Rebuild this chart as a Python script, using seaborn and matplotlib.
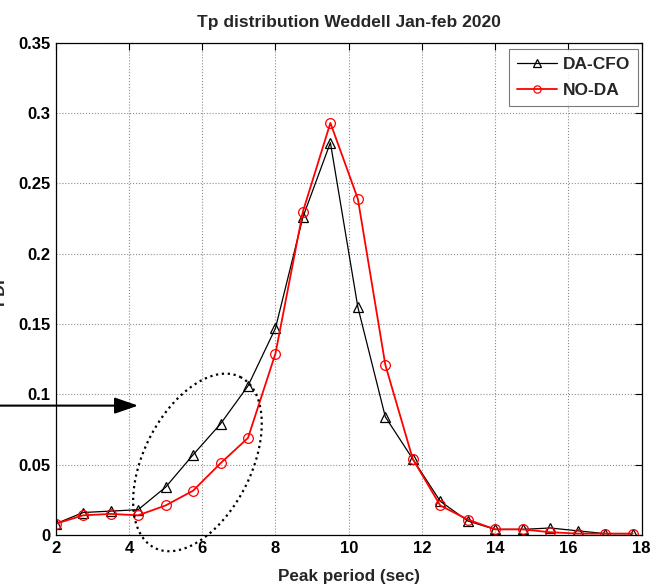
import numpy as np
import pandas as pd
import matplotlib
matplotlib.use("Agg")
import matplotlib.pyplot as plt
import seaborn as sns

# ---- data ----
tp = [2.0, 2.75, 3.5, 4.25, 5.0, 5.75, 6.5, 7.25, 8.0, 8.75, 9.5, 10.25,
      11.0, 11.75, 12.5, 13.25, 14.0, 14.75, 15.5, 16.25, 17.0, 17.75]
da_cfo = [0.008, 0.016, 0.017, 0.018, 0.034, 0.057, 0.079, 0.106, 0.147, 0.226, 0.279, 0.162,
          0.084, 0.054, 0.024, 0.010, 0.004, 0.004, 0.005, 0.003, 0.001, 0.001]
no_da = [0.008, 0.014, 0.015, 0.014, 0.021, 0.0315, 0.051, 0.069, 0.129, 0.230, 0.293, 0.239,
         0.121, 0.054, 0.021, 0.011, 0.004, 0.004, 0.002, 0.001, 0.001, 0.001]
series_names = ["DA-CFO", "NO-DA"]
xticks = [2, 4, 6, 8, 10, 12, 14, 16, 18]
yticks = [0, 0.05, 0.1, 0.15, 0.2, 0.25, 0.3, 0.35]
ytick_labels = ["0", "0.05", "0.1", "0.15", "0.2", "0.25", "0.3", "0.35"]
title = "Tp distribution Weddell Jan-feb 2020"
xlabel = "Peak period (sec)"
ylabel = "PDF"

sns.set_style("white")
plt.rcParams['font.family'] = ['Liberation Sans', 'DejaVu Sans']
plt.rcParams['font.weight'] = 'bold'

fig = plt.figure(figsize=(6.53, 5.86), dpi=100)
ax = fig.add_axes([0.0853, 0.0870, 0.8974, 0.8401])

df1 = pd.DataFrame({"tp": tp, "pdf": da_cfo})
df2 = pd.DataFrame({"tp": tp, "pdf": no_da})
sns.lineplot(data=df1, x="tp", y="pdf", ax=ax, color="black", lw=0.9,
             marker="^", markersize=7, markerfacecolor="none",
             markeredgecolor="black", markeredgewidth=0.9, label=series_names[0])
sns.lineplot(data=df2, x="tp", y="pdf", ax=ax, color="red", lw=1.3,
             marker="o", markersize=7, markerfacecolor="none",
             markeredgecolor="red", markeredgewidth=0.9, label=series_names[1])

ax.set_xlim(2, 18)
ax.set_ylim(0, 0.35)
ax.set_xticks(xticks)
ax.set_xticklabels([str(t) for t in xticks])
ax.set_yticks(yticks)
ax.set_yticklabels(ytick_labels)
ax.tick_params(direction="in", length=5, width=0.8, top=True, right=True,
               labelsize=12, pad=4, colors="black")
for lab in ax.get_xticklabels() + ax.get_yticklabels():
    lab.set_fontweight("bold")
for s in ax.spines.values():
    s.set_color("black")
    s.set_linewidth(0.9)
ax.grid(True, ls=":", color="0.55", lw=0.8)

ax.set_title(title, fontsize=12.5, fontweight="bold", pad=11)
ax.set_xlabel(xlabel, fontsize=12.3, fontweight="bold", labelpad=10)
ax.set_ylabel(ylabel, fontsize=12, fontweight="bold")
ax.yaxis.set_label_coords(-0.083, 0.5)

leg = ax.legend(loc="upper right", fontsize=12.5, handlelength=2.3,
                bbox_to_anchor=(0.9775, 0.9159), bbox_transform=fig.transFigure,
                frameon=True, fancybox=False, borderaxespad=0.0,
                handletextpad=0.35, borderpad=0.45, labelspacing=0.6,
                markerscale=0.75)
leg.get_frame().set_edgecolor("0.35")
leg.get_frame().set_linewidth(0.8)
for t in leg.get_texts():
    t.set_fontweight("bold")

# ---- annotations: dotted ellipse and arrow ----
center = ax.transData.transform((5.87, 0.0516))
theta = np.deg2rad(26.6)
a, b = 95.6, 53.7
t = np.linspace(0, 2 * np.pi, 300)
u = np.array([np.sin(theta), np.cos(theta)])    # display coords (y up): top leans right
v = np.array([np.cos(theta), -np.sin(theta)])
pts = center + np.outer(a * np.cos(t), u) + np.outer(b * np.sin(t), v)
pts_data = ax.transData.inverted().transform(pts)
ax.plot(pts_data[:, 0], pts_data[:, 1], ls=":", color="black", lw=1.6, clip_on=False)

ax.annotate("", xy=(4.25, 0.092), xycoords="data",
            xytext=(0.0, 0.092), textcoords=("figure fraction", "data"),
            arrowprops=dict(arrowstyle="-|>,head_length=1.3,head_width=0.45",
                            lw=1.5, color="black", mutation_scale=11,
                            shrinkA=0, shrinkB=0),
            annotation_clip=False)

fig.savefig("out.png", dpi=100)
